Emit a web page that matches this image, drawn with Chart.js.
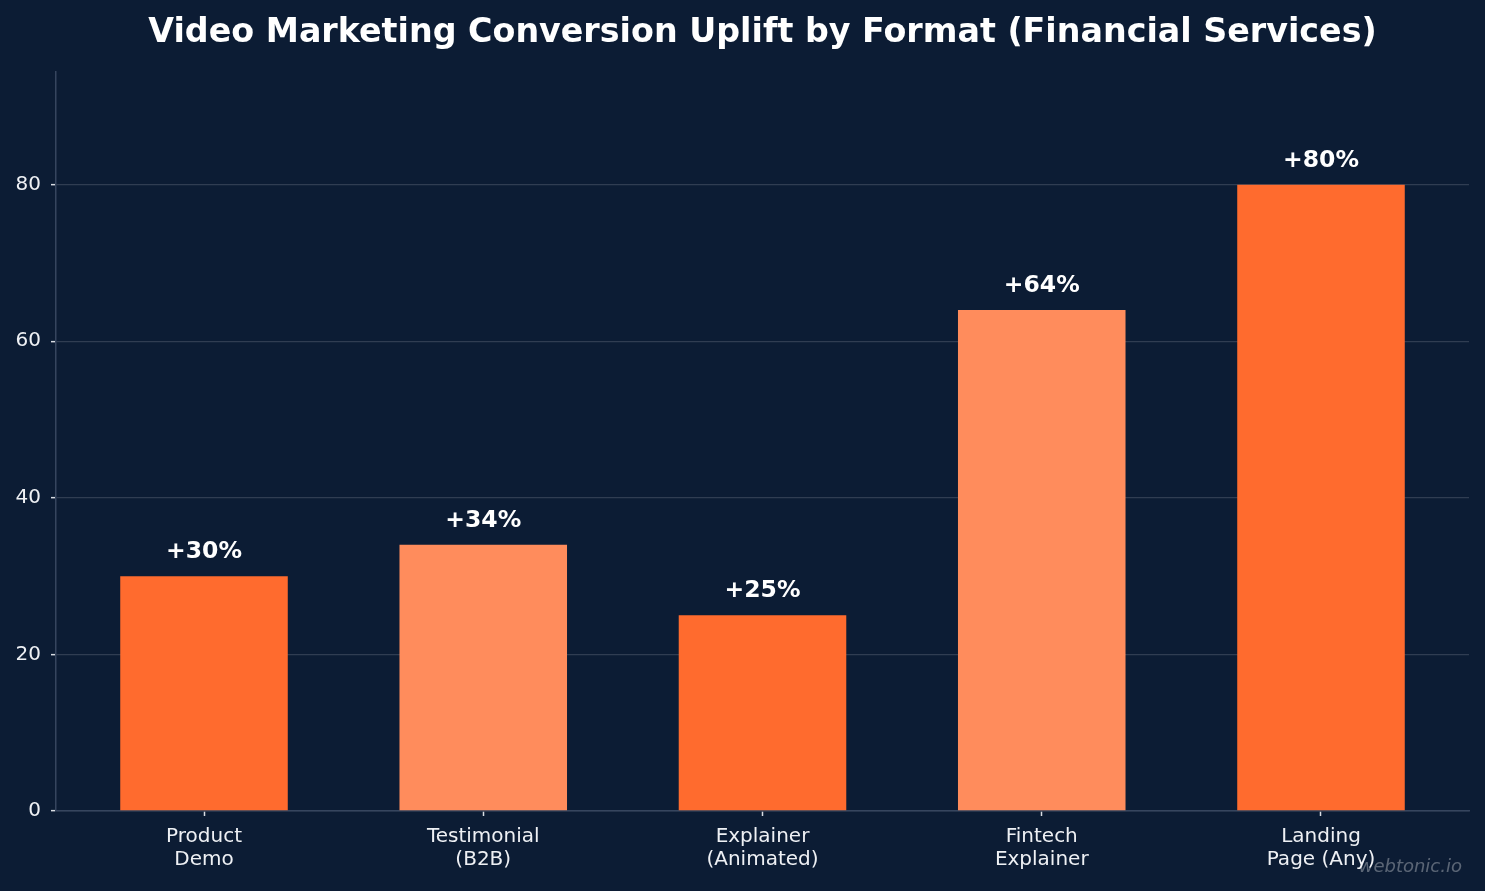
<!DOCTYPE html>
<html>
<head>
<meta charset="utf-8">
<script src="https://cdn.jsdelivr.net/npm/chart.js@4"></script>
<style>
  html, body { margin: 0; padding: 0; background: #0c1c34; }
  #wrap { width: 1485px; height: 891px; }
</style>
</head>
<body>
<div id="wrap"><canvas id="c" width="1485" height="891"></canvas></div>
<script>
const categories = ["Product\nDemo", "Testimonial\n(B2B)", "Explainer\n(Animated)", "Fintech\nExplainer", "Landing\nPage (Any)"];
const upliftValues = [30, 34, 25, 64, 80];
const barColors = ["#ff6b2e", "#ff8c5c", "#ff6b2e", "#ff8c5c", "#ff6b2e"];
const yTicks = [0, 20, 40, 60, 80];
const titleText = "Video Marketing Conversion Uplift by Format (Financial Services)";
const watermarkText = "webtonic.io";

const FONT = "'DejaVu Sans', sans-serif";

const bgPlugin = {
  id: 'bg',
  beforeDraw(chart) {
    const ctx = chart.ctx;
    ctx.save();
    ctx.fillStyle = '#0c1c34';
    ctx.fillRect(0, 0, chart.width, chart.height);
    ctx.restore();
  }
};

const labelPlugin = {
  id: 'valueLabels',
  afterDatasetsDraw(chart) {
    const ctx = chart.ctx;
    const meta = chart.getDatasetMeta(0);
    ctx.save();
    ctx.font = "bold 23.5px " + FONT;
    ctx.fillStyle = '#ffffff';
    ctx.textAlign = 'center';
    ctx.textBaseline = 'alphabetic';
    meta.data.forEach((bar, i) => {
      ctx.fillText('+' + upliftValues[i] + '%', bar.x, bar.y - 18);
    });
    ctx.restore();
  },
  afterDraw(chart) {
    const ctx = chart.ctx;
    ctx.save();
    ctx.font = "italic 18px " + FONT;
    ctx.fillStyle = 'rgba(255,255,255,0.32)';
    ctx.textAlign = 'right';
    ctx.textBaseline = 'alphabetic';
    ctx.fillText(watermarkText, 1462, 872);
    ctx.restore();
  }
};

new Chart(document.getElementById('c'), {
  type: 'bar',
  data: {
    datasets: [{
      data: upliftValues.map((v, i) => ({ x: i, y: v })),
      backgroundColor: barColors,
      borderWidth: 0,
      barPercentage: 0.6,
      categoryPercentage: 1.0
    }]
  },
  options: {
    responsive: false,
    devicePixelRatio: 1,
    animation: false,
    layout: { padding: { left: 0, right: 16, top: 0, bottom: 0 } },
    plugins: {
      legend: { display: false },
      tooltip: { enabled: false },
      title: {
        display: true,
        fullSize: false,
        text: titleText,
        color: '#ffffff',
        font: { family: FONT, size: 33.3, weight: 'bold', lineHeight: 1.2 },
        padding: { top: 13, bottom: 19 }
      }
    },
    scales: {
      x: {
        type: 'linear',
        min: -0.53,
        max: 4.53,
        offset: false,
        z: 1,
        afterBuildTicks(scale) { scale.ticks = categories.map((c, i) => ({ value: i })); },
        afterFit(scale) { scale.height = 80; },
        ticks: {
          color: '#eef0f4',
          font: { family: FONT, size: 20, lineHeight: 1.15 },
          padding: 9,
          autoSkip: false,
          maxRotation: 0,
          callback: (v) => categories[v] !== undefined ? categories[v].split('\n') : ''
        },
        grid: { offset: false, drawOnChartArea: false, drawTicks: true, tickLength: 5, tickColor: '#d8dce2', tickWidth: 1.5 },
        border: { display: true, color: '#36455e', width: 1.5 }
      },
      y: {
        type: 'linear',
        min: 0,
        max: 94.4,
        z: 1,
        afterBuildTicks(scale) { scale.ticks = yTicks.map(v => ({ value: v })); },
        afterFit(scale) { scale.width = 56; },
        ticks: {
          color: '#eef0f4',
          font: { family: FONT, size: 20 },
          padding: 10
        },
        grid: { color: 'rgba(255,255,255,0.15)', lineWidth: 1.3, drawTicks: true, tickLength: 5, tickColor: '#d8dce2', tickWidth: 1.5 },
        border: { display: true, color: '#36455e', width: 1.5 }
      }
    }
  },
  plugins: [bgPlugin, labelPlugin]
});
</script>
</body>
</html>
